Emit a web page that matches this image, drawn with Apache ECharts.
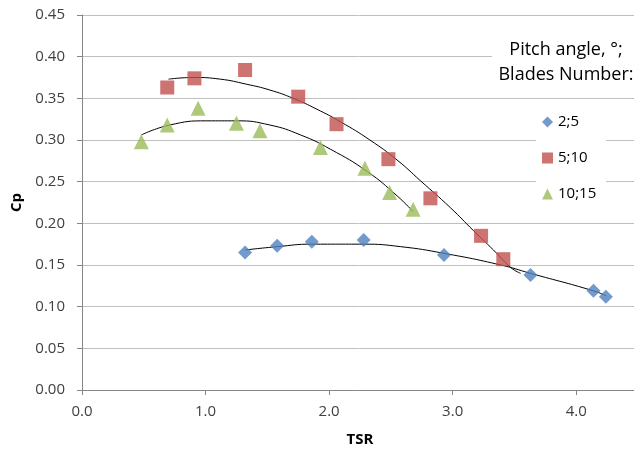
<!DOCTYPE html>
<html>
<head>
<meta charset="utf-8">
<script src="https://cdn.jsdelivr.net/npm/echarts@6/dist/echarts.min.js"></script>
<style>
  html, body { margin: 0; padding: 0; background: #fff; }
</style>
</head>
<body>
<div id="chart" style="width:634px;height:450px;"></div>
<script>
// measured points (TSR, Cp)
const s25 = [[1.32, 0.165], [1.58, 0.173], [1.86, 0.178], [2.28, 0.180], [2.93, 0.162], [3.63, 0.138], [4.14, 0.119], [4.24, 0.112]];
const s510 = [[0.69, 0.363], [0.91, 0.374], [1.32, 0.384], [1.75, 0.352], [2.06, 0.319], [2.48, 0.277], [2.82, 0.230], [3.23, 0.185], [3.41, 0.157]];
const s1015 = [[0.48, 0.298], [0.69, 0.318], [0.94, 0.338], [1.25, 0.320], [1.44, 0.311], [1.93, 0.291], [2.29, 0.266], [2.49, 0.237], [2.68, 0.217]];

// trendlines
const trend25 = [[1.32, 0.168], [1.58, 0.172], [1.86, 0.175], [2.28, 0.175], [2.58, 0.172], [2.93, 0.164], [3.39, 0.150], [3.63, 0.140], [4.14, 0.119], [4.24, 0.113]];
const trend510 = [[0.70, 0.373], [0.90, 0.375], [1.12, 0.373], [1.33, 0.367], [1.52, 0.360], [1.71, 0.350], [1.90, 0.337], [2.09, 0.322], [2.33, 0.300], [2.55, 0.276], [2.74, 0.251], [2.98, 0.219], [3.17, 0.191], [3.33, 0.168], [3.47, 0.147], [3.55, 0.140]];
const trend1015 = [[0.48, 0.306], [0.71, 0.318], [1.01, 0.323], [1.25, 0.323], [1.52, 0.318], [1.77, 0.306], [2.01, 0.289], [2.31, 0.262], [2.55, 0.233], [2.68, 0.214]];

const names = ['2;5', '5;10', '10;15'];
const colors = ['#4F81BD', '#C0504D', '#9BBB59'];

let chart = echarts.init(document.getElementById('chart'));

const font = '"Open Sans", "DejaVu Sans", sans-serif';

function trendLine(d) {
    return {
        type: 'line',
        data: d,
        smooth: 0.5,
        showSymbol: false,
        symbol: 'none',
        silent: true,
        lineStyle: { color: '#000', width: 1 },
        z: 1
    };
}

let option = {
    animation: false,
    textStyle: { fontFamily: font },
    grid: { left: 82, right: -4, top: 15, bottom: 60, containLabel: false, outerBoundsMode: 'none' },
    // legend title box
    graphic: [
        { type: 'rect', left: 492, top: 31, shape: { width: 142, height: 60 }, style: { fill: '#fff' }, z: 10 },
        {
            type: 'text', x: 566, y: 37, z: 11,
            style: {
                text: 'Pitch angle, °;\nBlades Number:',
                align: 'center',
                verticalAlign: 'top',
                font: '18px "Open Sans", sans-serif',
                lineHeight: 25,
                fill: '#000'
            }
        }
    ],
    legend: {
        data: names,
        orient: 'vertical',
        left: 536,
        top: 104,
        padding: [8, 10, 8, 6],
        itemGap: 16,
        itemWidth: 11,
        itemHeight: 11,
        itemTextGap: 4,
        backgroundColor: '#fff',
        textStyle: { fontFamily: font, fontSize: 15, color: '#000', lineHeight: 20 }
    },
    xAxis: {
        type: 'value',
        min: 0,
        max: 4.5,
        interval: 1,
        name: 'TSR',
        nameLocation: 'middle',
        nameGap: 42,
        nameTextStyle: { fontFamily: font, fontSize: 15, fontWeight: 'bold', color: '#000' },
        axisLine: { show: true, lineStyle: { color: '#868686' } },
        axisTick: { show: true, length: 5, lineStyle: { color: '#868686' } },
        axisLabel: {
            showMaxLabel: false,
            margin: 14,
            fontSize: 15,
            color: '#404040',
            formatter: v => v.toFixed(1)
        },
        splitLine: { show: false }
    },
    yAxis: {
        type: 'value',
        min: 0,
        max: 0.45,
        interval: 0.05,
        name: 'Cp',
        nameLocation: 'middle',
        nameGap: 52,
        nameTextStyle: { fontFamily: font, fontSize: 15, fontWeight: 'bold', color: '#000' },
        axisLine: { show: true, lineStyle: { color: '#868686' } },
        axisTick: { show: true, length: 5, lineStyle: { color: '#868686' } },
        axisLabel: {
            margin: 17,
            fontSize: 15,
            color: '#404040',
            formatter: v => v.toFixed(2)
        },
        splitLine: { lineStyle: { color: '#c0c0c0', width: 1 } }
    },
    series: [
        trendLine(trend25),
        trendLine(trend510),
        trendLine(trend1015),
        { name: names[0], type: 'scatter', data: s25, symbol: 'diamond', symbolSize: 14, itemStyle: { color: colors[0] }, z: 3 },
        { name: names[1], type: 'scatter', data: s510, symbol: 'rect', symbolSize: 14, itemStyle: { color: colors[1] }, z: 3 },
        { name: names[2], type: 'scatter', data: s1015, symbol: 'triangle', symbolSize: 15, itemStyle: { color: colors[2] }, z: 3 }
    ]
};

option && chart.setOption(option);
</script>
</body>
</html>
